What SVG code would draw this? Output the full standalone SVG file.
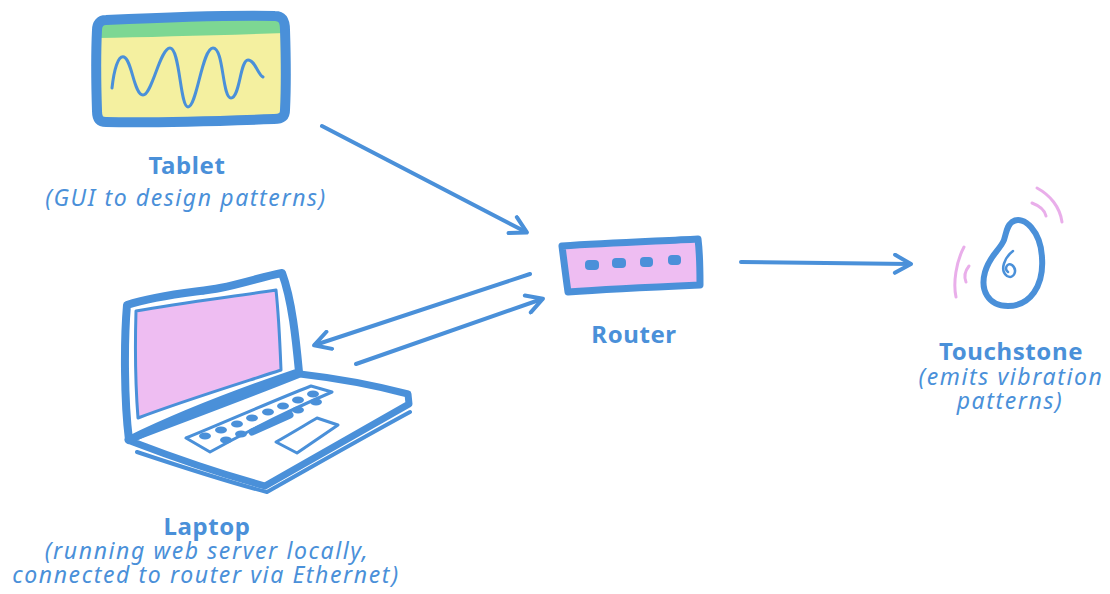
<svg xmlns="http://www.w3.org/2000/svg" width="1110" height="594" viewBox="0 0 1110 594">
  <defs>
    <style>
      .ink { fill: none; stroke: #4A90D9; stroke-linecap: round; stroke-linejoin: round; }
      .wire { fill: none; stroke: #4A90D9; stroke-width: 4; stroke-linecap: round; marker-end: url(#head); }
      .buzz { fill: none; stroke: #E9AEEA; stroke-width: 3; stroke-linecap: round; }
      .title { font-family: "Noto Sans", "Open Sans", sans-serif; font-weight: 700; font-size: 24px; letter-spacing: 0.6px; fill: #4A90D9; text-anchor: middle; }
      .note { font-family: "Noto Sans", "Open Sans", sans-serif; font-style: italic; font-size: 23px; letter-spacing: 1.6px; fill: #4A90D9; text-anchor: middle; }
    </style>
    <marker id="head" viewBox="0 0 22 22" refX="18" refY="11" markerWidth="22" markerHeight="22" markerUnits="userSpaceOnUse" orient="auto">
      <path d="M3,2 L19,11 L3,20" fill="none" stroke="#4A90D9" stroke-width="4" stroke-linecap="round" stroke-linejoin="round"/>
    </marker>
  </defs>

  <!-- Tablet -->
  <g id="tablet">
    <path d="M106,20 C150,18 230,15 275,16 C283,16 285,22 285,30 C286,60 286,90 285,110 C285,117 281,119 274,119 C220,121 150,123 106,122 C99,122 97,118 97,111 C96,80 96,50 97,30 C97,24 100,20 106,20 Z" fill="#F4F0A0"/>
    <path d="M106,20 C150,18 230,15 275,16 C283,16 285,22 285,30 L285,33 C220,35 150,37 97,38 L97,30 C97,24 100,20 106,20 Z" fill="#7DD793"/>
    <path class="ink" stroke-width="10" d="M106,20 C150,18 230,15 275,16 C283,16 285,22 285,30 C286,60 286,90 285,110 C285,117 281,119 274,119 C220,121 150,123 106,122 C99,122 97,118 97,111 C96,80 96,50 97,30 C97,24 100,20 106,20 Z"/>
    <path class="ink" stroke-width="3" d="M112,88 C114,70 118,55 124,57 C132,60 134,95 143,95 C152,95 160,48 170,48 C180,48 180,107 188,107 C197,107 202,48 213,48 C224,48 222,98 231,98 C240,98 240,60 248,60 C255,60 258,75 263,77"/>
    <text class="title" x="187" y="174">Tablet</text>
    <text class="note" x="186" y="206">(GUI to design patterns)</text>
  </g>

  <!-- Laptop -->
  <g id="laptop">
    <path class="ink" stroke-width="7" fill="#FFFFFF" d="M133,442 C180,460 225,475 265,486 C310,460 360,432 409,404 L408,394 C370,384 335,378 300,374 C240,398 180,420 128,440 Z"/>
    <path class="ink" stroke-width="4" d="M137,452 C185,468 228,482 267,492 C315,465 362,438 410,412"/>
    <path class="ink" stroke-width="8" fill="#FFFFFF" d="M127,305 C160,294 200,292 220,288 C245,283 265,276 282,273 C292,300 296,340 299,372 C240,392 180,415 129,440 C124,400 124,340 127,305 Z"/>
    <path fill="#EEBDF2" stroke="#4A90D9" stroke-width="3" stroke-linejoin="round" d="M136,311 C180,303 230,297 276,290 C279,318 280,345 281,370 C235,385 180,402 138,418 C135,380 135,345 136,311 Z"/>
    <circle cx="203" cy="292" r="2.5" fill="#4A90D9"/>
    <path class="ink" stroke-width="3" d="M186,438 C230,420 275,400 311,386 L332,392 C290,410 250,430 210,452 Z"/>
    <g fill="#4A90D9">
      <ellipse cx="205" cy="436" rx="6" ry="3.5"/><ellipse cx="221" cy="430" rx="6" ry="3.5"/>
      <ellipse cx="237" cy="424" rx="6" ry="3.5"/><ellipse cx="252" cy="418" rx="6" ry="3.5"/>
      <ellipse cx="268" cy="412" rx="6" ry="3.5"/><ellipse cx="283" cy="406" rx="6" ry="3.5"/>
      <ellipse cx="298" cy="400" rx="6" ry="3.5"/><ellipse cx="313" cy="394" rx="6" ry="3.5"/>
      <ellipse cx="226" cy="440" rx="6" ry="3.5"/><ellipse cx="241" cy="434" rx="6" ry="3.5"/>
      <ellipse cx="298" cy="410" rx="6" ry="3.5"/><ellipse cx="316" cy="402" rx="6" ry="3.5"/>
      <path d="M252,432 L290,415" stroke="#4A90D9" stroke-width="7" stroke-linecap="round"/>
    </g>
    <path class="ink" stroke-width="3" d="M276,442 C290,434 305,425 317,418 L338,425 C325,434 310,444 297,453 Z"/>
    <text class="title" x="207" y="535">Laptop</text>
    <text class="note" x="207" y="559">(running web server locally,</text>
    <text class="note" x="206" y="583">connected to router via Ethernet)</text>
  </g>

  <!-- Router -->
  <g id="router">
    <path fill="#EEBDF2" d="M562,246 C610,243 660,241 698,239 C700,255 700,270 700,285 C655,287 610,289 568,292 C566,278 564,262 562,246 Z"/>
    <path class="ink" stroke-width="7" d="M562,246 C610,243 660,241 698,239 C700,255 700,270 700,285 C655,287 610,289 568,292 C566,278 564,262 562,246 Z"/>
    <g fill="#4A90D9">
      <rect x="585" y="260" width="14" height="10" rx="4"/>
      <rect x="612" y="258" width="14" height="10" rx="4"/>
      <rect x="640" y="257" width="13" height="10" rx="4"/>
      <rect x="668" y="255" width="13" height="10" rx="4"/>
    </g>
    <text class="title" x="634" y="343">Router</text>
  </g>

  <!-- Touchstone -->
  <g id="touchstone">
    <path class="ink" stroke-width="6" d="M1012,222 C1024,214 1041,232 1042,258 C1044,286 1030,306 1008,306 C988,306 980,290 985,272 C990,255 1000,250 1004,240 C1007,230 1007,226 1012,222 Z"/>
    <path class="ink" stroke-width="2.5" d="M1013,251 C1005,257 999,270 1007,276 C1014,280 1018,270 1012,265 C1007,262 1004,269 1008,272"/>
    <path class="buzz" d="M1037,188 C1050,195 1060,207 1062,222"/>
    <path class="buzz" d="M1032,203 C1040,206 1045,211 1046,216"/>
    <path class="buzz" d="M964,247 C956,262 953,283 956,297"/>
    <path class="buzz" d="M969,266 C965,271 964,277 966,282"/>
    <text class="title" x="1011" y="360">Touchstone</text>
    <text class="note" x="1011" y="385">(emits vibration</text>
    <text class="note" x="1010" y="409">patterns)</text>
  </g>

  <!-- Connectors -->
  <g id="connectors">
    <path class="wire" d="M322,126 L526,232"/>
    <path class="wire" d="M530,274 L315,345"/>
    <path class="wire" d="M356,364 L542,299"/>
    <path class="wire" d="M741,262 L910,264"/>
  </g>
</svg>
